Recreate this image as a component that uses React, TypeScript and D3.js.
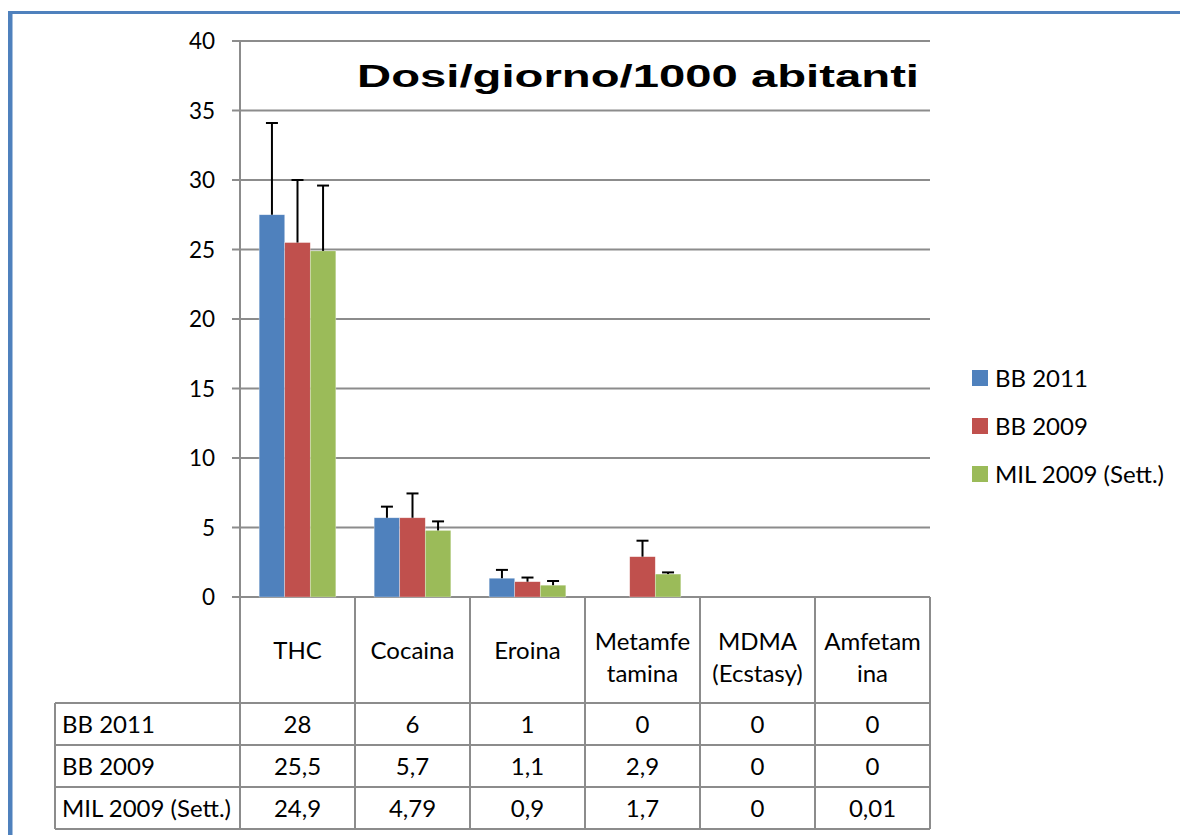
import React from "react";
import * as d3 from "d3";

const categories = [
  ["THC"],
  ["Cocaina"],
  ["Eroina"],
  ["Metamfe", "tamina"],
  ["MDMA", "(Ecstasy)"],
  ["Amfetam", "ina"],
];
const seriesNames = ["BB 2011", "BB 2009", "MIL 2009 (Sett.)"];
const seriesColors = ["#4F81BD", "#C0504D", "#9BBB59"];

// bar heights
const bb2011 = [27.5, 5.7, 1.35, 0, 0, 0];
const bb2009 = [25.5, 5.7, 1.1, 2.9, 0, 0];
const mil2009 = [24.9, 4.79, 0.85, 1.65, 0, 0.01];

// upper error bar lengths
const bb2011Err = [6.6, 0.8, 0.6, 0, 0, 0];
const bb2009Err = [4.5, 1.75, 0.3, 1.15, 0, 0];
const mil2009Err = [4.7, 0.65, 0.3, 0.12, 0, 0];

// values printed in the data table
const bb2011Labels = ["28", "6", "1", "0", "0", "0"];
const bb2009Labels = ["25,5", "5,7", "1,1", "2,9", "0", "0"];
const mil2009Labels = ["24,9", "4,79", "0,9", "1,7", "0", "0,01"];

const yTicks = [0, 5, 10, 15, 20, 25, 30, 35, 40];

const W = 1180;
const H = 835;
const FONT = "Lato, 'Open Sans', sans-serif";
const GRID = "#8C8C8C";

export default function App() {
  const left = 240;
  const right = 930;
  const top = 41;
  const bottom = 597;
  const headerBottom = 703;
  const rowH = 42;
  const tableLeft = 55;

  const values = [bb2011, bb2009, mil2009];
  const errs = [bb2011Err, bb2009Err, mil2009Err];
  const labels = [bb2011Labels, bb2009Labels, mil2009Labels];

  const y = d3.scaleLinear().domain([0, 40]).range([bottom, top]);
  const x0 = d3
    .scaleBand<number>()
    .domain(d3.range(categories.length))
    .range([left, right])
    .paddingInner(1 / 3)
    .paddingOuter(1 / 6);
  const x1 = d3
    .scaleBand<number>()
    .domain(d3.range(seriesNames.length))
    .range([0, x0.bandwidth()]);
  const step = x0.step();
  const colX = (i: number) => left + i * step;

  const tableBottom = headerBottom + rowH * seriesNames.length;

  return (
    <svg
      width={W}
      height={H}
      style={{ position: "absolute", left: 0, top: 0, background: "#fff" }}
      fontFamily={FONT}
    >
      {/* frame */}
      <rect x={8} y={11} width={W - 8} height={3} fill="#4F81BD" />
      <rect x={8} y={11} width={4.5} height={H - 11} fill="#4F81BD" />

      {/* gridlines + y ticks */}
      {yTicks.map((t) => (
        <g key={t}>
          <line x1={232} x2={right} y1={y(t)} y2={y(t)} stroke={GRID} strokeWidth={2} />
          <text x={215} y={y(t)} dy="0.36em" textAnchor="end" fontSize={22.5} fill="#000">
            {t}
          </text>
        </g>
      ))}
      <line x1={left} x2={left} y1={top} y2={tableBottom} stroke={GRID} strokeWidth={2} />

      {/* title */}
      <text
        x={357}
        y={87}
        fontFamily="'Liberation Sans', Arial, sans-serif"
        fontWeight="bold"
        fontSize={31}
        textLength={562}
        lengthAdjust="spacingAndGlyphs"
        fill="#000"
      >
        Dosi/giorno/1000 abitanti
      </text>

      {/* bars */}
      {values.map((vals, s) =>
        vals.map((v, i) =>
          v > 0.05 ? (
            <rect
              key={`b${s}-${i}`}
              x={(x0(i) ?? 0) + (x1(s) ?? 0)}
              y={y(v)}
              width={x1.bandwidth()}
              height={y(0) - y(v)}
              fill={seriesColors[s]}
              stroke="#fff"
              strokeOpacity={0.5}
              strokeWidth={0.6}
            />
          ) : null
        )
      )}

      {/* error bars */}
      {values.map((vals, s) =>
        vals.map((v, i) => {
          const e = errs[s][i];
          if (!e) return null;
          const cx = (x0(i) ?? 0) + (x1(s) ?? 0) + x1.bandwidth() / 2;
          return (
            <g key={`e${s}-${i}`} stroke="#000" strokeWidth={2}>
              <line x1={cx} x2={cx} y1={y(v)} y2={y(v + e)} />
              <line x1={cx - 6} x2={cx + 6} y1={y(v + e)} y2={y(v + e)} />
            </g>
          );
        })
      )}

      {/* table: category header */}
      {d3.range(categories.length + 1).map((i) => (
        <line
          key={`cv${i}`}
          x1={colX(i)}
          x2={colX(i)}
          y1={bottom}
          y2={tableBottom}
          stroke={GRID}
          strokeWidth={2}
        />
      ))}
      {categories.map((lines, i) => {
        const cx = colX(i) + step / 2;
        const lh = 32;
        const mid = (bottom + headerBottom) / 2 + (lines.length > 1 ? 7 : 0);
        const start = mid - ((lines.length - 1) * lh) / 2;
        return (
          <text key={`c${i}`} textAnchor="middle" fontSize={24} fill="#000">
            {lines.map((l, k) => (
              <tspan key={k} x={cx} y={start + k * lh} dy="0.36em">
                {l}
              </tspan>
            ))}
          </text>
        );
      })}

      {/* table: data rows */}
      {d3.range(seriesNames.length + 1).map((r) => (
        <line
          key={`rh${r}`}
          x1={tableLeft}
          x2={right}
          y1={headerBottom + r * rowH}
          y2={headerBottom + r * rowH}
          stroke={GRID}
          strokeWidth={2}
        />
      ))}
      <line x1={tableLeft} x2={tableLeft} y1={headerBottom} y2={tableBottom} stroke={GRID} strokeWidth={2} />
      {seriesNames.map((name, s) => {
        const cy = headerBottom + s * rowH + rowH / 2;
        return (
          <g key={`r${s}`} fontSize={24} fill="#000">
            <text x={62} y={cy} dy="0.36em">
              {name}
            </text>
            {labels[s].map((l, i) => (
              <text key={i} x={colX(i) + step / 2} y={cy} dy="0.36em" textAnchor="middle">
                {l}
              </text>
            ))}
          </g>
        );
      })}

      {/* legend */}
      {seriesNames.map((name, s) => {
        const cy = 378 + s * 48;
        return (
          <g key={`l${s}`}>
            <rect x={972} y={cy - 8} width={16} height={16} fill={seriesColors[s]} />
            <text x={995} y={cy} dy="0.36em" fontSize={24} fill="#000">
              {name}
            </text>
          </g>
        );
      })}
    </svg>
  );
}
